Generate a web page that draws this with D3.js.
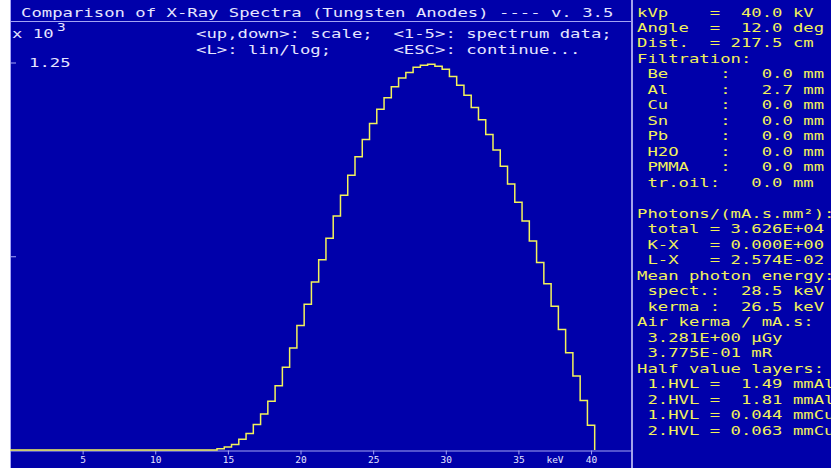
<!DOCTYPE html>
<html>
<head>
<meta charset="utf-8">
<script src="https://cdn.jsdelivr.net/npm/d3@7"></script>
<style>
  html, body { margin: 0; padding: 0; background: #fff; }
  text { font-family: "DejaVu Sans Mono", monospace; white-space: pre; }
</style>
</head>
<body>
<div id="chart"></div>
<script>
// spectrum bins (keV, bin centres, 0.5 keV wide) and photon counts (x 10^3)
const energy = [14.5, 15, 15.5, 16, 16.5, 17, 17.5, 18, 18.5, 19,
                19.5, 20, 20.5, 21, 21.5, 22, 22.5, 23, 23.5, 24,
                24.5, 25, 25.5, 26, 26.5, 27, 27.5, 28, 28.5, 29,
                29.5, 30, 30.5, 31, 31.5, 32, 32.5, 33, 33.5, 34,
                34.5, 35, 35.5, 36, 36.5, 37, 37.5, 38, 38.5, 39,
                39.5, 40];
const photons = [0.004, 0.010, 0.018, 0.035, 0.053, 0.082, 0.116, 0.157, 0.207, 0.267,
                 0.329, 0.402, 0.470, 0.542, 0.614, 0.683, 0.755, 0.822, 0.886, 0.946,
                 1.002, 1.053, 1.099, 1.136, 1.172, 1.200, 1.218, 1.235, 1.241, 1.244,
                 1.238, 1.228, 1.205, 1.177, 1.144, 1.105, 1.065, 1.018, 0.968, 0.915,
                 0.858, 0.799, 0.739, 0.674, 0.605, 0.536, 0.464, 0.389, 0.314, 0.239,
                 0.160, 0.080];
const binWidth = 0.5;

const xTicks = [5, 10, 15, 20, 25, 30, 35, 40];
const yTicks = [0.625, 1.25];
const yTickLabels = ["", "1.25"];

const title = "Comparison of X-Ray Spectra (Tungsten Anodes) ---- v. 3.5";
const helpLines = ["<up,down>: scale;  <1-5>: spectrum data;",
                   "<L>: lin/log;      <ESC>: continue..."];

const panelLines = [
  "kVp    =  40.0 kV",
  "Angle  =  12.0 deg",
  "Dist.  = 217.5 cm",
  "Filtration:",
  " Be     :   0.0 mm",
  " Al     :   2.7 mm",
  " Cu     :   0.0 mm",
  " Sn     :   0.0 mm",
  " Pb     :   0.0 mm",
  " H2O    :   0.0 mm",
  " PMMA   :   0.0 mm",
  " tr.oil:   0.0 mm",
  "",
  "Photons/(mA.s.mm²):",
  " total = 3.626E+04",
  " K-X   = 0.000E+00",
  " L-X   = 2.574E-02",
  "Mean photon energy:",
  " spect.:  28.5 keV",
  " kerma :  26.5 keV",
  "Air kerma / mA.s:",
  " 3.281E+00 µGy",
  " 3.775E-01 mR",
  "Half value layers:",
  " 1.HVL =  1.49 mmAl",
  " 2.HVL =  1.81 mmAl",
  " 1.HVL = 0.044 mmCu",
  " 2.HVL = 0.063 mmCu"
];

const layout = {
  width: 831,
  height: 468,
  plot: { left: 10, right: 631, top: 21, base: 450, ytop: 62.5 },
  panelX: 637
};

const BLUE = "#0000aa";
const YELLOW = "#f2f25a";
const WHITE = "#e6e6ff";
const AXIS = "#a4a4f4";
const SX = 1.44;   // the old DOS font is wide: stretch the glyphs

var svg = d3.select("#chart").append("svg")
  .attr("width", layout.width)
  .attr("height", layout.height);

svg.append("rect").attr("width", layout.width).attr("height", layout.height).attr("fill", "#fff");
svg.append("rect")
  .attr("x", layout.plot.left).attr("y", 0)
  .attr("width", layout.width - layout.plot.left).attr("height", layout.height)
  .attr("fill", BLUE);

// frame lines
svg.append("line")
  .attr("x1", layout.plot.left + 0.5).attr("x2", layout.plot.left + 0.5)
  .attr("y1", 0).attr("y2", layout.height)
  .attr("stroke", AXIS);
svg.append("line")
  .attr("x1", layout.plot.left).attr("x2", layout.plot.right)
  .attr("y1", layout.plot.top + 0.5).attr("y2", layout.plot.top + 0.5)
  .attr("stroke", AXIS);
svg.append("line")
  .attr("x1", layout.plot.right + 1).attr("x2", layout.plot.right + 1)
  .attr("y1", 0).attr("y2", layout.height)
  .attr("stroke", "#d8d8ff").attr("stroke-width", 1.5);

// helper: wide text
function wideText(g, str, x, y, color, size) {
  return g.append("text")
    .attr("transform", `translate(${x},${y}) scale(${SX},1)`)
    .attr("font-size", size || 12)
    .attr("fill", color)
    .text(str);
}

wideText(svg, title, 21, 17, WHITE);
wideText(svg, "x 10", 12, 38, WHITE);
wideText(svg, "3", 57, 31, WHITE, 10);
helpLines.forEach(function(s, i) {
  wideText(svg, s, 196, 38 + i * 15.5, WHITE);
});

var xScale = d3.scaleLinear().domain([0, 42.75]).range([layout.plot.left, layout.plot.right]);
var yScale = d3.scaleLinear().domain([0, 1.25]).range([layout.plot.base, layout.plot.ytop]);

var xAxis = d3.axisBottom(xScale).tickValues(xTicks).tickSize(4).tickSizeOuter(0).tickPadding(2);

svg.append("g")
  .attr("transform", `translate(0,${layout.plot.base + 0.5})`)
  .call(xAxis)
  .call(function(g) {
    g.select(".domain").attr("stroke", AXIS);
    g.selectAll(".tick line").attr("stroke", AXIS);
    g.selectAll(".tick text")
      .attr("fill", WHITE)
      .attr("font-size", 9.5)
      .attr("font-family", "DejaVu Sans Mono");
  });

svg.append("text")
  .attr("x", 555).attr("y", 463)
  .attr("text-anchor", "middle")
  .attr("font-size", 9.5)
  .attr("fill", WHITE)
  .text("keV");

var yAxis = d3.axisRight(yScale).tickValues(yTicks).tickSize(6)
  .tickFormat(function(d, i) { return yTickLabels[i]; });

svg.append("g")
  .attr("transform", `translate(${layout.plot.left},0)`)
  .call(yAxis)
  .call(function(g) {
    g.select(".domain").remove();
    g.selectAll(".tick line").attr("stroke", AXIS);
    g.selectAll(".tick text")
      .attr("fill", WHITE)
      .attr("font-size", 12)
      .attr("font-family", "DejaVu Sans Mono")
      .attr("x", null).attr("dy", null)
      .attr("transform", `translate(19,4) scale(${SX},1)`);
  });

// spectrum as a histogram outline
var pts = [[0, 0]];
for (var i = 0; i < energy.length; i++) {
  pts.push([energy[i] - binWidth / 2, photons[i]]);
}
pts.push([energy[energy.length - 1] + binWidth / 2, 0]);

var line = d3.line()
  .curve(d3.curveStepAfter)
  .x(function(d) { return xScale(d[0]); })
  .y(function(d) { return yScale(d[1]); });

svg.append("path")
  .datum(pts)
  .attr("d", line)
  .attr("fill", "none")
  .attr("stroke", YELLOW)
  .attr("stroke-width", 1.5);

// right info panel
var panel = svg.append("g");
panelLines.forEach(function(s, i) {
  wideText(panel, s, layout.panelX, 16.5 + i * 15.49, YELLOW);
});
</script>
</body>
</html>
